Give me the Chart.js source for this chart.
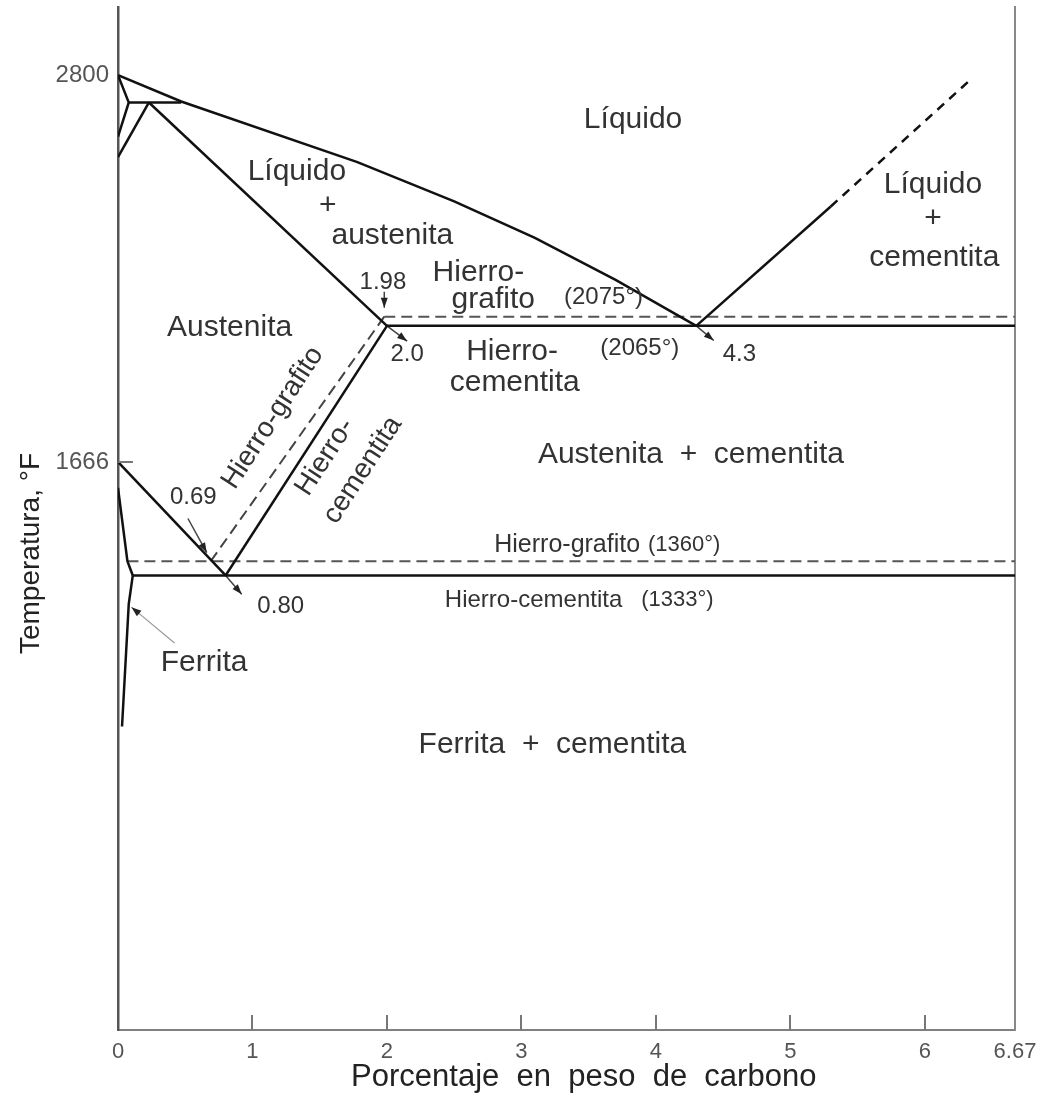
<!DOCTYPE html>
<html>
<head>
<meta charset="utf-8">
<script src="https://cdn.jsdelivr.net/npm/chart.js@4.4.0/dist/chart.umd.min.js"></script>
<style>
html, body { margin: 0; padding: 0; background: #fff; }
#wrap { width: 1043px; height: 1099px; }
</style>
</head>
<body>
<div id="wrap"><canvas id="phasechart" width="1043" height="1099"></canvas></div>
<script>
const FONT = "'Liberation Sans', Arial, Helvetica, sans-serif";

// axis ticks
const xTicks = [0, 1, 2, 3, 4, 5, 6, 6.67];
const yTicks = [1666, 2800];

// phase boundaries, [% C, °F]
const liquidus = [[0, 2800], [0.47, 2723], [1.78, 2545], [2.5, 2430], [3.1, 2323], [3.7, 2200], [4.3, 2065]];
const deltaOuter = [[0, 2800], [0.08, 2720], [0, 2620]];
const deltaInner = [[0.23, 2720], [0, 2560]];
const peritectic = [[0.08, 2720], [0.47, 2720]];
const solidus = [[0.23, 2720], [2.0, 2065]];
const eutectic = [[2.0, 2065], [6.67, 2065]];
const eutecticGraphite = [[1.98, 2092], [6.67, 2092]];
const cementiteLiq = [[4.3, 2065], [5.3, 2415]];
const cementiteLiqExt = [[5.3, 2415], [6.32, 2780]];
const acm = [[2.0, 2065], [0.8, 1333]];
const acmGraphite = [[1.98, 2092], [0.69, 1375]];
const a3 = [[0, 1666], [0.8, 1333]];
const ferriteA3 = [[0, 1590], [0.07, 1375], [0.11, 1333]];
const ferriteSolvus = [[0.11, 1333], [0.08, 1250], [0.03, 890]];
const eutectoid = [[0.11, 1333], [6.67, 1333]];
const eutectoidGraphite = [[0.07, 1375], [6.67, 1375]];

// leader arrows (tail -> head)
const arrow198 = [[1.98, 2165], [1.98, 2118]];
const arrow20 = [[2.0, 2065], [2.15, 2020]];
const arrow43 = [[4.3, 2065], [4.43, 2022]];
const arrow069 = [[0.52, 1500], [0.66, 1400]];
const arrow080 = [[0.8, 1333], [0.92, 1278]];
const arrowFerrita = [[0.42, 1135], [0.10, 1240]];

// region labels
const notes = [
	{ t: "Líquido", x: 3.83, y: 2669, s: 30 },
	{ t: "Líquido", x: 1.33, y: 2516, s: 30 },
	{ t: "+", x: 1.56, y: 2416, s: 30 },
	{ t: "austenita", x: 2.04, y: 2328, s: 30 },
	{ t: "Austenita", x: 0.83, y: 2059, s: 30 },
	{ t: "1.98", x: 1.97, y: 2191, s: 24 },
	{ t: "Hierro-", x: 2.68, y: 2220, s: 30 },
	{ t: "grafito", x: 2.79, y: 2141, s: 30 },
	{ t: "(2075°)", x: 3.61, y: 2147, s: 24 },
	{ t: "2.0", x: 2.15, y: 1980, s: 24 },
	{ t: "Hierro-", x: 2.93, y: 1988, s: 30 },
	{ t: "cementita", x: 2.95, y: 1897, s: 30 },
	{ t: "(2065°)", x: 3.88, y: 2000, s: 24 },
	{ t: "4.3", x: 4.62, y: 1980, s: 24 },
	{ t: "Líquido", x: 6.06, y: 2478, s: 30 },
	{ t: "+", x: 6.06, y: 2378, s: 30 },
	{ t: "cementita", x: 6.07, y: 2264, s: 30 },
	{ t: "Austenita  +  cementita", x: 4.26, y: 1686, s: 30 },
	{ t: "Hierro-grafito", x: 1.15, y: 1795, s: 28, r: -57 },
	{ t: "Hierro-", x: 1.54, y: 1680, s: 28, r: -57 },
	{ t: "cementita", x: 1.82, y: 1642, s: 28, r: -57 },
	{ t: "0.69", x: 0.56, y: 1563, s: 24 },
	{ t: "0.80", x: 1.21, y: 1243, s: 24 },
	{ t: "Hierro-grafito", x: 3.34, y: 1422, s: 25 },
	{ t: "(1360°)", x: 4.21, y: 1422, s: 22 },
	{ t: "Hierro-cementita", x: 3.09, y: 1261, s: 24 },
	{ t: "(1333°)", x: 4.16, y: 1261, s: 22 },
	{ t: "Ferrita", x: 0.64, y: 1076, s: 30 },
	{ t: "Ferrita  +  cementita", x: 3.23, y: 836, s: 30 }
];

function seg(points, opts) {
	return Object.assign({
		data: points.map(p => ({ x: p[0], y: p[1] })),
		showLine: true,
		pointRadius: 0,
		borderColor: "#111",
		borderWidth: 2.5,
		fill: false
	}, opts);
}

const solid = [liquidus, deltaOuter, deltaInner, peritectic, solidus, eutectic, cementiteLiq, acm, a3, ferriteA3, ferriteSolvus, eutectoid];
const datasets = solid.map(p => seg(p));
datasets.push(seg(cementiteLiqExt, { borderDash: [9, 7] }));
datasets.push(seg(eutecticGraphite, { borderColor: "#555", borderWidth: 2, borderDash: [11, 6] }));
datasets.push(seg(acmGraphite, { borderColor: "#444", borderWidth: 2, borderDash: [11, 6] }));
datasets.push(seg(eutectoidGraphite, { borderColor: "#555", borderWidth: 2, borderDash: [11, 6] }));
[arrow198, arrow20, arrow43, arrow069, arrow080].forEach(a => {
	datasets.push(seg(a, { borderWidth: 1.5, borderColor: "#444", arrow: true }));
});
datasets.push(seg(arrowFerrita, { borderWidth: 1.2, borderColor: "#999", arrow: true }));

// no extra room for end tick labels, the frame is fixed
function noPad(scale) {
	scale.paddingTop = 0;
	scale.paddingBottom = 0;
	scale.paddingLeft = 0;
	scale.paddingRight = 0;
}

const decorations = {
	id: "decorations",
	afterDatasetsDraw(chart) {
		const ctx = chart.ctx;
		const xs = chart.scales.x;
		const ys = chart.scales.y;
		const area = chart.chartArea;
		ctx.save();

		// inward tick marks
		ctx.strokeStyle = "#777";
		ctx.lineWidth = 2;
		xTicks.slice(1, -1).forEach(v => {
			const px = Math.round(xs.getPixelForValue(v));
			ctx.beginPath();
			ctx.moveTo(px, area.bottom);
			ctx.lineTo(px, area.bottom - 15);
			ctx.stroke();
		});
		const py = Math.round(ys.getPixelForValue(1666));
		ctx.beginPath();
		ctx.moveTo(area.left, py);
		ctx.lineTo(area.left + 15, py);
		ctx.stroke();

		// arrow heads
		chart.data.datasets.forEach((ds, i) => {
			if (!ds.arrow) return;
			const pts = chart.getDatasetMeta(i).data;
			const a = pts[pts.length - 2];
			const b = pts[pts.length - 1];
			const ang = Math.atan2(b.y - a.y, b.x - a.x);
			ctx.save();
			ctx.translate(b.x, b.y);
			ctx.rotate(ang);
			ctx.fillStyle = "#222";
			ctx.beginPath();
			ctx.moveTo(0, 0);
			ctx.lineTo(-10, -3.5);
			ctx.lineTo(-10, 3.5);
			ctx.closePath();
			ctx.fill();
			ctx.restore();
		});

		// labels
		ctx.fillStyle = "#333";
		ctx.textAlign = "center";
		ctx.textBaseline = "middle";
		notes.forEach(n => {
			ctx.save();
			ctx.font = n.s + "px " + FONT;
			ctx.translate(xs.getPixelForValue(n.x), ys.getPixelForValue(n.y));
			if (n.r) ctx.rotate(n.r * Math.PI / 180);
			ctx.fillText(n.t, 0, 0);
			ctx.restore();
		});
		ctx.restore();
	}
};

const nb = "\u00a0";
const phaseContext = document.getElementById("phasechart").getContext("2d");

let phaseChart = new Chart(phaseContext, {
	type: "scatter",
	data: { datasets: datasets },
	plugins: [decorations],
	options: {
		responsive: false,
		animation: false,
		layout: { padding: { top: 7, left: 0, right: 0, bottom: 0 } },
		plugins: {
			legend: { display: false },
			tooltip: { enabled: false }
		},
		scales: {
			x: {
				type: "linear",
				min: 0,
				max: 6.67,
				afterBuildTicks: function (scale) {
					scale.ticks = xTicks.map(v => ({ value: v }));
				},
				afterFit: function (scale) {
					scale.height = 69;
					noPad(scale);
				},
				grid: { display: false, drawTicks: false },
				border: { display: true, color: "#808080", width: 2 },
				ticks: {
					autoSkip: false,
					maxRotation: 0,
					padding: 9,
					color: "#555",
					font: { size: 22, family: FONT },
					callback: function (value) {
						return String(value);
					}
				},
				title: {
					display: true,
					// leading spaces nudge the title right, as in the original
					text: nb.repeat(4) + "Porcentaje  en  peso  de  carbono",
					color: "#222",
					font: { size: 31, family: FONT },
					padding: { top: 0, bottom: 3 }
				}
			},
			y: {
				type: "linear",
				min: 0,
				max: 3000,
				afterBuildTicks: function (scale) {
					scale.ticks = yTicks.map(v => ({ value: v }));
				},
				afterFit: function (scale) {
					scale.width = 118;
					noPad(scale);
				},
				grid: { display: false, drawTicks: false },
				border: { display: true, color: "#555", width: 2.5 },
				ticks: {
					padding: 9,
					color: "#555",
					font: { size: 24, family: FONT },
					callback: function (value) {
						return String(value);
					}
				},
				title: {
					display: true,
					// trailing spaces push the title a little lower
					text: "Temperatura, °F" + nb.repeat(9),
					color: "#222",
					font: { size: 28, family: FONT },
					padding: { top: 14, bottom: 0 }
				}
			},
			y2: {
				type: "linear",
				position: "right",
				min: 0,
				max: 3000,
				afterFit: function (scale) {
					scale.width = 28;
					noPad(scale);
				},
				grid: { display: false, drawTicks: false },
				border: { display: true, color: "#888", width: 2 },
				ticks: { display: false }
			}
		}
	}
});
</script>
</body>
</html>
